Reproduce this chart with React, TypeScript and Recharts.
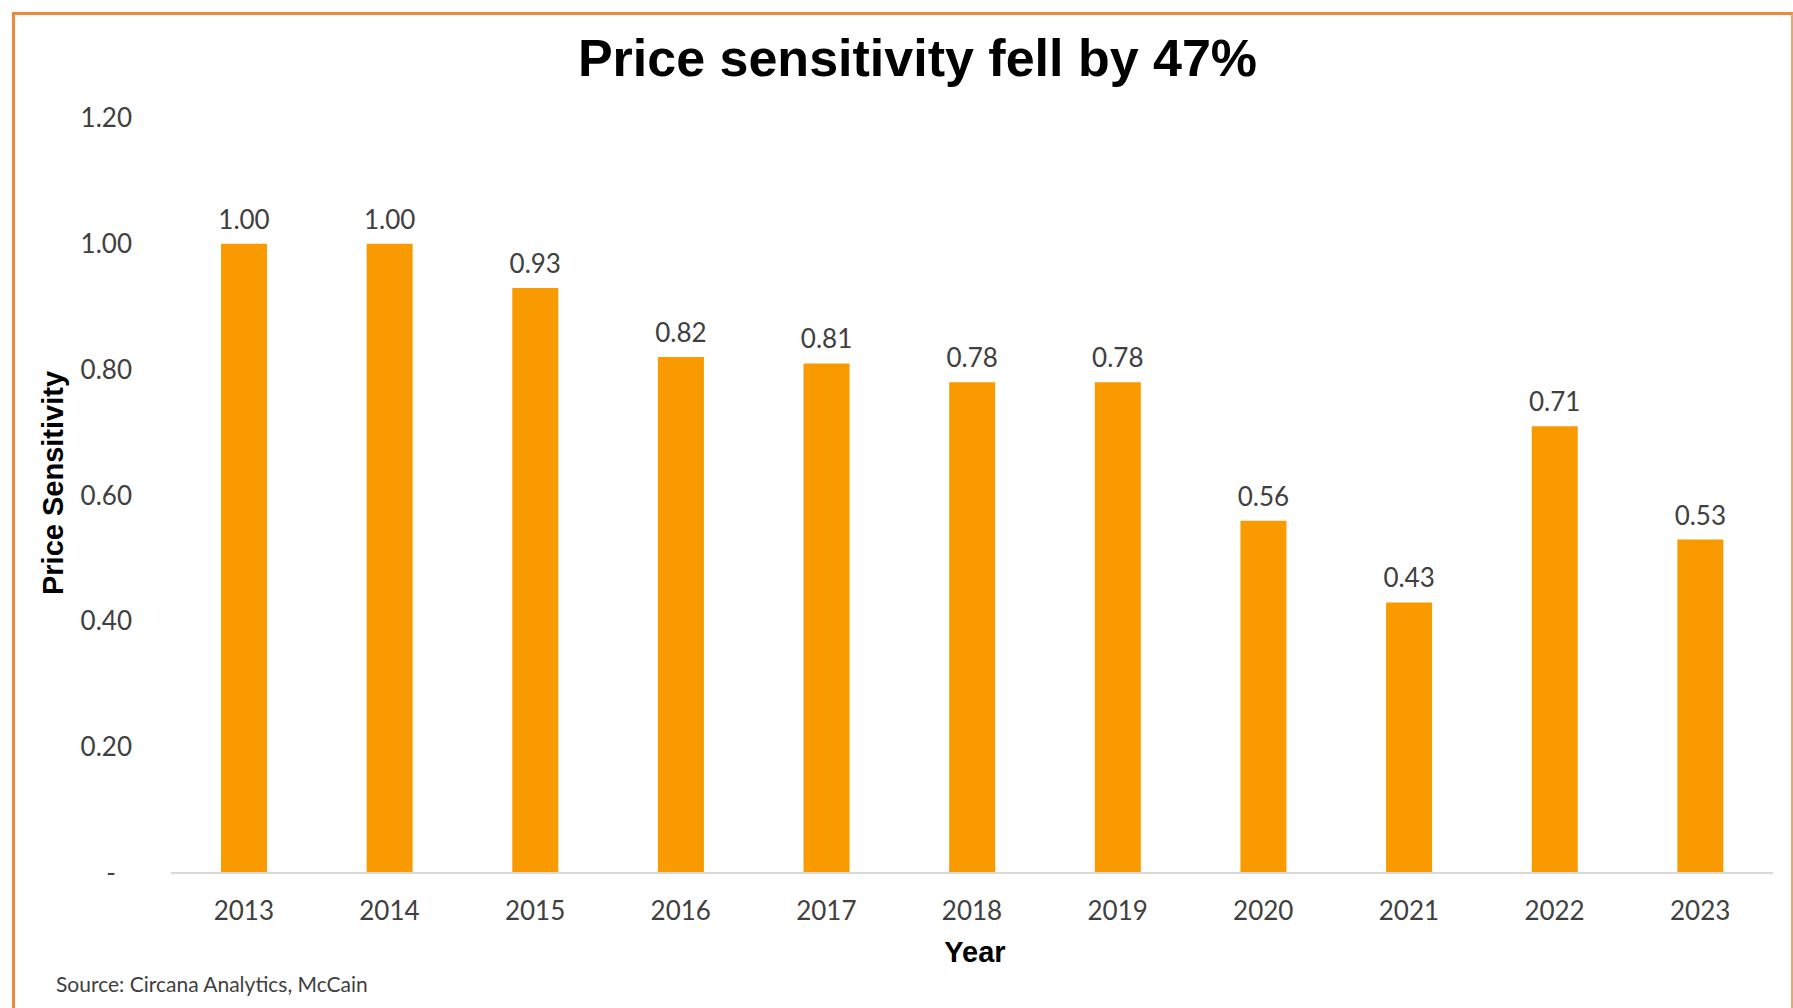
import React from "react";
import { BarChart, Bar, XAxis, YAxis, LabelList } from "recharts";

const years = ["2013", "2014", "2015", "2016", "2017", "2018", "2019", "2020", "2021", "2022", "2023"];
const sensitivity = [1.0, 1.0, 0.93, 0.82, 0.81, 0.78, 0.78, 0.56, 0.43, 0.71, 0.53];
const yTicks = [0, 0.2, 0.4, 0.6, 0.8, 1.0, 1.2];

const data = years.map((year, i) => ({ year, value: sensitivity[i] }));

const labelFont = "Lato, 'Open Sans', sans-serif";
const titleFont = "'Liberation Sans', Arial, sans-serif";

const YTick = (props: any) => {
  const { x, y, payload } = props;
  const v = payload.value;
  return (
    <text
      x={v === 0 ? x - 16 : x}
      y={y}
      dy={9}
      textAnchor="end"
      fontFamily={labelFont}
      fontSize={26}
      fill="#404040"
    >
      {v === 0 ? "-" : v.toFixed(2)}
    </text>
  );
};

export default function App() {
  return (
    <div
      style={{
        position: "absolute",
        left: 0,
        top: 0,
        width: 1793,
        height: 1008,
        background: "#fff",
        overflow: "hidden",
      }}
    >
      <div
        style={{
          position: "absolute",
          left: 12,
          top: 12,
          width: 1776,
          height: 1010,
          borderTop: "3px solid #ED8A3E",
          borderLeft: "3px solid #ED8A3E",
          borderRight: "3px solid #E0A878",
        }}
      />
      <div
        style={{
          position: "absolute",
          left: 0,
          width: 1835,
          top: 28,
          textAlign: "center",
          fontFamily: titleFont,
          fontWeight: "bold",
          fontSize: 52,
          color: "#000",
        }}
      >
        Price sensitivity fell by 47%
      </div>
      <div
        style={{
          position: "absolute",
          left: 53,
          top: 483,
          transform: "translate(-50%, -50%) rotate(-90deg)",
          whiteSpace: "nowrap",
          fontFamily: titleFont,
          fontWeight: "bold",
          fontSize: 29,
          color: "#000",
        }}
      >
        Price Sensitivity
      </div>
      <div
        style={{
          position: "absolute",
          left: 975,
          top: 952,
          transform: "translate(-50%, -50%)",
          fontFamily: titleFont,
          fontWeight: "bold",
          fontSize: 29,
          color: "#000",
        }}
      >
        Year
      </div>
      <div
        style={{
          position: "absolute",
          left: 56,
          top: 971,
          fontFamily: labelFont,
          fontSize: 21,
          color: "#404040",
        }}
      >
        Source: Circana Analytics, McCain
      </div>
      <div style={{ position: "absolute", left: 0, top: 0 }}>
        <BarChart
          width={1793}
          height={1008}
          data={data}
          margin={{ top: 118, right: 20, left: 31, bottom: 0 }}
        >
          <XAxis
            dataKey="year"
            height={135}
            tickLine={false}
            axisLine={{ stroke: "#D9D9D9", strokeWidth: 2 }}
            tickMargin={23}
            tick={{ fontFamily: labelFont, fontSize: 26, fill: "#404040" }}
          />
          <YAxis
            width={140}
            domain={[0, 1.2]}
            ticks={yTicks}
            axisLine={false}
            tickLine={false}
            tickMargin={33}
            tick={<YTick />}
          />
          <Bar dataKey="value" fill="#F99A00" barSize={46} isAnimationActive={false}>
            <LabelList
              dataKey="value"
              position="top"
              offset={15}
              formatter={(v: any) => Number(v).toFixed(2)}
              style={{ fontFamily: labelFont, fontSize: 26, fill: "#404040" }}
            />
          </Bar>
        </BarChart>
      </div>
    </div>
  );
}
